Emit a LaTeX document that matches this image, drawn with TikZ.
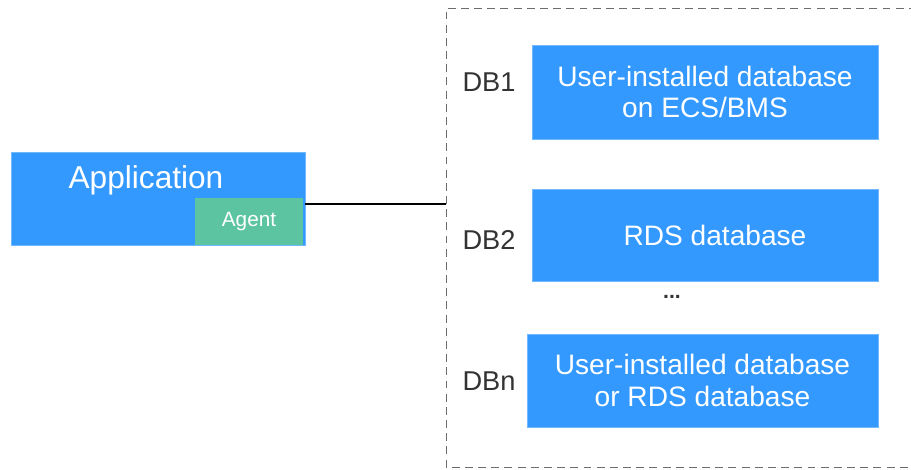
\documentclass[tikz,border=0pt]{standalone}
\usepackage{fontspec}
\setmainfont{Liberation Sans}
\definecolor{boxblue}{HTML}{3399FF}
\definecolor{agentgreen}{HTML}{5CC4A1}
\definecolor{labelgray}{HTML}{333333}

\begin{document}
\begin{tikzpicture}[x=0.02cm, y=-0.02cm, every node/.style={inner sep=0pt, outer sep=0pt},
	bluebox/.style={fill=boxblue, draw=boxblue!70!white, line width=0.4pt, text=white, align=center, font=\fontsize{16}{18}\selectfont},
	dblabel/.style={text=labelgray, font=\fontsize{15.5}{18}\selectfont}]
	\useasboundingbox (0,0) rectangle (911,469);
	% container of the databases
	\draw[gray!85!black, dash pattern=on 4.5pt off 3pt, line width=0.5pt] (930,8) -- (446,8) -- (446,467) -- (930,467);
	% application side
	\node[fill=boxblue, draw=boxblue!70!white, minimum width=294*0.02cm, minimum height=93*0.02cm] (app) at (158,198.5) {};
	\node[text=white, font=\fontsize{18}{20}\selectfont] (apptext) at (146,180) {Application};
	\node[fill=agentgreen, minimum width=108*0.02cm, minimum height=47*0.02cm, text=white, font=\fontsize{11.8}{13}\selectfont] (agent) at (249,221.5) {Agent};
	\coordinate (hub) at (446,204);
	\draw[line width=0.6pt] (app.east |- hub) -- (hub);
	% databases
	\node[bluebox, minimum width=346*0.02cm, minimum height=94*0.02cm] (db1) at (705,92) {User-installed database\\on ECS/BMS};
	\node[bluebox, minimum width=346*0.02cm, minimum height=92*0.02cm] (db2) at (705,235) {\hspace*{0.4cm}RDS database};
	\node[bluebox, minimum width=351*0.02cm, minimum height=93*0.02cm] (dbn) at (702.5,380.5) {User-installed database\\or RDS database};
	\node[dblabel] (l1) at (489,82) {DB1};
	\node[dblabel] (l2) at (489,240) {DB2};
	\node[dblabel] (ln) at (489,381) {DBn};
	\node[text=labelgray, font=\bfseries\fontsize{12}{14}\selectfont] (dots) at (672,297) {...};
\end{tikzpicture}
\end{document}
